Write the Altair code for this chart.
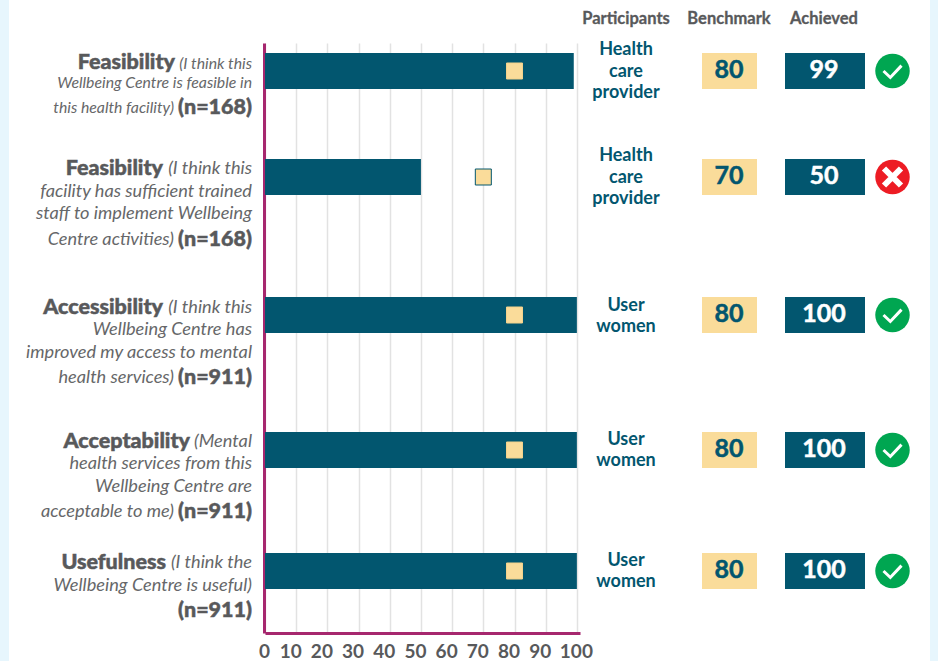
import altair as alt
import pandas as pd

# Survey outcomes, one entry per question
participants = ["Health\ncare\nprovider", "Health\ncare\nprovider", "User\nwomen", "User\nwomen", "User\nwomen"]
benchmark = [80, 70, 80, 80, 80]
achieved = [99, 50, 100, 100, 100]

# Vertical layout of the rows, in pixels from the top of the page
row_center = [71, 177, 315, 450, 571]
participant_y = [50, 156, 305.5, 439.5, 560.5]

# Question labels: text, style, right edge, vertical centre
label_runs = [
    ("Feasibility", "head", 175, 61), ("(I think this", "small", 252, 63),
    ("Wellbeing Centre is feasible in", "small", 252, 82),
    ("this health facility)", "small", 174, 107), ("(n=168)", "head", 252, 106),
    ("Feasibility", "head", 163, 167), ("(I think this", "note", 252, 168),
    ("facility has sufficient trained", "note", 252, 191),
    ("staff to implement Wellbeing", "note", 252, 213),
    ("Centre activities)", "note", 174, 239), ("(n=168)", "head", 252, 238),
    ("Accessibility", "head", 163, 306), ("(I think this", "note", 252, 307),
    ("Wellbeing Centre has", "note", 252, 329),
    ("improved my access to mental", "note", 252, 352),
    ("health services)", "note", 174, 377), ("(n=911)", "head", 252, 376),
    ("Acceptability", "head", 190, 440), ("(Mental", "note", 252, 441),
    ("health services from this", "note", 252, 463),
    ("Wellbeing Centre are", "note", 252, 486),
    ("acceptable to me)", "note", 174, 511), ("(n=911)", "head", 252, 510),
    ("Usefulness", "head", 166, 561), ("(I think the", "note", 252, 562),
    ("Wellbeing Centre is useful)", "note", 252, 585),
    ("(n=911)", "head", 252, 609),
]

column_heads = [("Participants", 626), ("Benchmark", 729), ("Achieved", 824)]

NOTE_SIZES = {"small": 15.8, "note": 18.2}

TEAL = "#02566f"
BEIGE = "#fadc9a"
GRAY = "#58595b"
MAGENTA = "#a6276e"
STRIP = "#e7f6fd"
FONT = "Lato"

PAD_LEFT, PAD_TOP, PLOT_W, PLOT_H = 265, 43, 315, 590


def px(x):
    """Page x in pixels, expressed relative to the plot area."""
    return alt.value(x - PAD_LEFT)


rows = pd.DataFrame({
    "participants": participants,
    "benchmark": benchmark,
    "achieved": achieved,
    "center": row_center,
    "top": [c - 18 for c in row_center],
    "bottom": [c + 18 for c in row_center],
    "participant_y": participant_y,
    "text_y": [c - 1 for c in row_center],
    "met": [a >= b for a, b in zip(achieved, benchmark)],
    "zero": 0,
})
runs = pd.DataFrame(label_runs, columns=["text", "style", "right", "y"])
runs["fs"] = runs["style"].map(NOTE_SIZES)
heads = pd.DataFrame(column_heads, columns=["text", "x"])

y_scale = alt.Scale(domain=[PAD_TOP, PAD_TOP + PLOT_H], range=[0, PLOT_H])
x_scale = alt.Scale(domain=[0, 101], nice=False)
page_x = alt.Scale(domain=[265, 580], range=[0, PLOT_W])
Y = lambda f: alt.Y(f"{f}:Q", scale=y_scale, title=None)

# Tick labels between the ends sit slightly left of their gridlines
x_axis = alt.Axis(
    values=list(range(0, 101, 10)), title=None, grid=True, gridColor="#e2e2e2", gridWidth=1.5,
    domainColor=MAGENTA, domainWidth=3, ticks=False, labelColor=GRAY,
    labelFont=FONT, labelFontSize=19, labelFontWeight="bold", labelPadding=9,
    labelFlush=False,
    labelOffset={"condition": {"test": "datum.value == 0 || datum.value == 100", "value": -1}, "value": -6},
)
y_axis = alt.Axis(
    title=None, labels=False, ticks=False, grid=False,
    domainColor=MAGENTA, domainWidth=3, offset=1,
)

# Page-edge strips
strips = alt.Chart(pd.DataFrame({"a": [0, 930], "b": [9, 938]})).mark_rect(color=STRIP).encode(
    x=alt.X("a:Q", scale=page_x, axis=None),
    x2="b:Q",
    y=alt.value(-PAD_TOP),
    y2=alt.value(661 - PAD_TOP),
)

bars = alt.Chart(rows).mark_rect(color=TEAL).encode(
    x=alt.X("zero:Q", scale=x_scale, axis=x_axis),
    x2="achieved:Q",
    y=alt.Y("top:Q", scale=y_scale, axis=y_axis),
    y2="bottom:Q",
)

targets = alt.Chart(rows).mark_square(size=256, fill=BEIGE, opacity=1, strokeWidth=1).encode(
    x=alt.X("benchmark:Q", scale=x_scale, axis=None),
    y=Y("center"),
    stroke=alt.condition("datum.met", alt.value("#f3d28c"), alt.value(TEAL)),
)

# Participant group names
who = alt.Chart(rows).mark_text(
    font=FONT, fontSize=18, fontWeight="bold", color=TEAL, align="center",
    baseline="middle", lineBreak="\n", lineHeight=21.5,
).encode(text="participants:N", x=px(626), y=Y("participant_y"))

# Benchmark and achieved boxes with their values
bench_box = alt.Chart(rows).mark_rect(color=BEIGE).encode(
    x=px(702), x2=px(757), y=Y("top"), y2="bottom:Q")
bench_text = alt.Chart(rows).mark_text(
    font=FONT, fontSize=25, fontWeight="bold", color=TEAL, stroke=TEAL, strokeWidth=0.5,
    align="center", baseline="middle",
).encode(text="benchmark:Q", x=px(729), y=Y("text_y"))
ach_box = alt.Chart(rows).mark_rect(color=TEAL).encode(
    x=px(785), x2=px(865), y=Y("top"), y2="bottom:Q")
ach_text = alt.Chart(rows).mark_text(
    font=FONT, fontSize=25, fontWeight="bold", color="white", stroke="white", strokeWidth=0.5,
    align="center", baseline="middle",
).encode(text="achieved:Q", x=px(824), y=Y("text_y"))

# Status badges
badge = alt.Chart(rows).mark_circle(size=1190, opacity=1).encode(
    x=px(892.5), y=Y("center"),
    color=alt.condition("datum.met", alt.value("#00a651"), alt.value("#ed1c24")),
)
tick_mark = alt.Chart(rows).transform_filter("datum.met").mark_point(
    shape="M-0.5,0 L-0.12,0.36 L0.5,-0.3", size=1296, filled=False, color="white",
    strokeWidth=3, opacity=1,
).encode(x=px(892.5), y=Y("center"))
cross_mark = alt.Chart(rows).transform_filter("!datum.met").mark_point(
    shape="M-0.5,-0.5 L0.5,0.5 M-0.5,0.5 L0.5,-0.5", size=1156, filled=False, color="white",
    strokeWidth=6, opacity=1,
).encode(x=px(892.5), y=Y("center"))

# Question labels, split into heavy and italic runs
head_text = alt.Chart(runs).transform_filter("datum.style == 'head'").mark_text(
    font=FONT, fontSize=21.5, fontWeight=900, color=GRAY, stroke=GRAY, strokeWidth=0.5,
    align="right", baseline="middle", dy=1.5,
).encode(text="text:N", x=alt.X("right:Q", scale=page_x, axis=None), y=Y("y"))
note_text = alt.Chart(runs).transform_filter("datum.style != 'head'").mark_text(
    font=FONT, fontStyle="italic", color="#666769", align="right", baseline="middle", dy=1,
).encode(
    text="text:N",
    x=alt.X("right:Q", scale=page_x, axis=None),
    y=Y("y"),
    size=alt.Size("fs:Q", scale=None),
)

head_row = alt.Chart(heads).mark_text(
    font=FONT, fontSize=16.5, fontWeight="bold", color=GRAY, stroke=GRAY, strokeWidth=0.3,
    align="center", baseline="middle", dy=1,
).encode(text="text:N", x=alt.X("x:Q", scale=page_x, axis=None), y=alt.value(18 - PAD_TOP))

chart = alt.layer(
    strips, bars, targets, who, bench_box, bench_text, ach_box, ach_text,
    badge, tick_mark, cross_mark, head_text, note_text, head_row,
).resolve_scale(x="independent").properties(
    width=PLOT_W,
    height=PLOT_H,
    background="white",
    autosize=alt.AutoSizeParams(type="none"),
    padding={"left": PAD_LEFT, "top": PAD_TOP, "right": 938 - PAD_LEFT - PLOT_W, "bottom": 661 - PAD_TOP - PLOT_H},
).configure_view(stroke=None)

chart.save("out.html", embed_options={"renderer": "svg", "actions": False})
